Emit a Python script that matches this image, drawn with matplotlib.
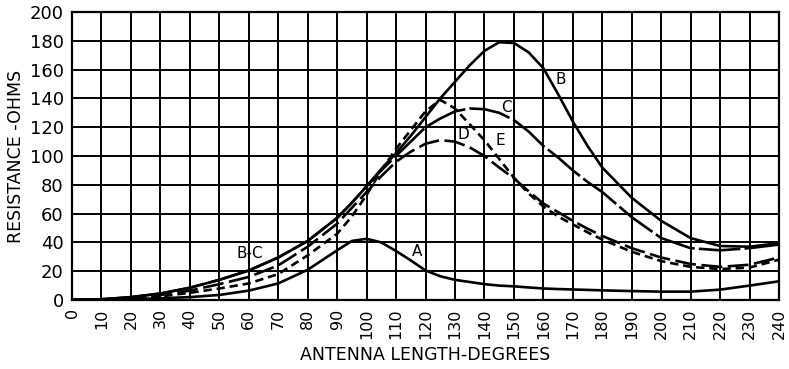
import matplotlib
matplotlib.use("Agg")
import matplotlib.pyplot as plt

plt.rcParams['font.family'] = ['DejaVu Sans']
plt.rcParams['lines.scale_dashes'] = False

# antenna length (degrees)
x = [0, 10, 20, 30, 40, 50, 60, 70, 80, 90, 95, 100, 105, 110, 115, 120, 125,
     130, 135, 140, 145, 150, 155, 160, 165, 170, 175, 180, 190, 200, 210, 220,
     230, 240]

curve_a = [0, 0.2, 0.6, 1.2, 2, 3.5, 6.5, 11.5, 21, 34.5, 41, 42.5, 40, 34,
           27.5, 20.5, 16.5, 14, 12.5, 11, 10, 9.5, 8.7, 8, 7.6, 7.3, 7, 6.7,
           6.2, 5.8, 5.8, 7.2, 10, 13]
curve_b = [0, 0.5, 2, 4.5, 8.5, 14, 20.5, 29.5, 41, 57, 67.5, 79, 91, 102,
           114, 127, 140, 151.5, 163, 173, 179, 178.5, 172, 161, 143, 124, 107,
           92, 71, 55, 43, 37.5, 37, 39.5]
curve_c = [0, 0.5, 2, 4.5, 8.5, 14, 20.5, 29.5, 41, 57, 67.5, 79, 90, 100,
           110, 120, 126, 131, 133, 132.5, 130, 125, 117, 107, 99, 90, 82, 75,
           57.5, 43, 36, 34.5, 36, 38.5]
curve_d = [0, 0.3, 1.5, 3.5, 6.5, 11, 16, 24, 37, 53, 64, 75, 86, 96, 103,
           108.5, 111, 110, 106, 100, 92, 84.5, 75.5, 67, 61, 55, 49.5, 44.5,
           36, 29.5, 25, 23, 24.5, 29.5]
curve_e = [0, 0.2, 1, 2.5, 5, 8, 11.5, 18, 31, 46, 58, 73, 90, 105, 118, 131,
           139, 133, 122, 111, 98, 85, 74, 65, 58, 52.5, 47, 42, 33.5, 27, 23,
           21.5, 22.5, 28]

x_ticks = list(range(0, 241, 10))
y_ticks = list(range(0, 201, 20))

labels = ["A", "B", "C", "D", "E", "B-C"]
label_x = [117, 166, 147.6, 132.9, 145.3, 60.4]
label_y = [33.5, 152.8, 134, 114.6, 111, 32.4]

fig = plt.figure(figsize=(7.89, 3.69), dpi=100)
ax = fig.add_axes([0.0913, 0.187, 0.896, 0.7805])

lw = 1.9
ax.plot(x, curve_a, color='black', lw=lw)
ax.plot(x, curve_b, color='black', lw=lw)
ax.plot(x, curve_c, color='black', lw=lw, dashes=(30, 3))
ax.plot(x, curve_d, color='black', lw=lw, dashes=(15, 4))
ax.plot(x, curve_e, color='black', lw=lw, dashes=(6, 3.5))

for t, tx, ty in zip(labels, label_x, label_y):
    ax.text(tx, ty, t, fontsize=11, ha='center', va='center', color='black')

ax.set_xlim(0, 240)
ax.set_ylim(0, 200)
ax.set_xticks(x_ticks)
ax.set_yticks(y_ticks)
ax.set_xticklabels([str(v) for v in x_ticks], rotation=90, fontsize=11.5)
ax.set_yticklabels([str(v) for v in y_ticks], fontsize=13)
ax.tick_params(length=0, pad=6)
ax.grid(True, color='black', lw=1.4)
ax.set_axisbelow(True)
for s in ax.spines.values():
    s.set_linewidth(1.6)

ax.set_xlabel("ANTENNA LENGTH-DEGREES", fontsize=12.5, labelpad=5)
ax.set_ylabel("RESISTANCE -OHMS", fontsize=12.5, labelpad=3)

fig.savefig("out.png", dpi=100)
